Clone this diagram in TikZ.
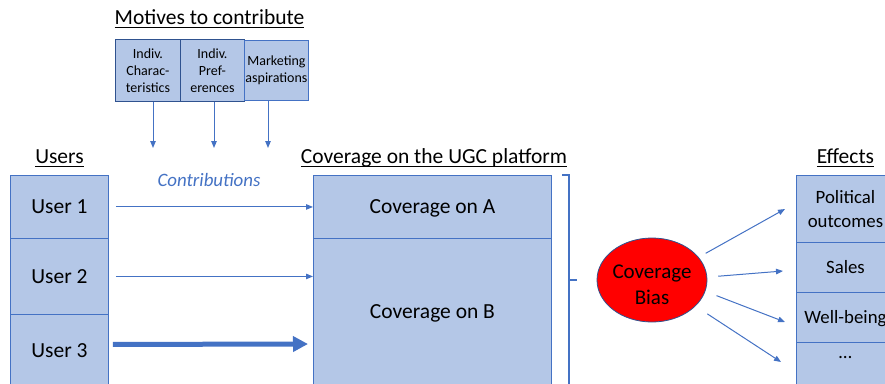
\documentclass[tikz,border=0pt]{standalone}
\usepackage{fontspec}
\setmainfont{Carlito}
\usetikzlibrary{arrows.meta,shapes.geometric,calc}
\definecolor{boxfill}{HTML}{B4C7E7}
\definecolor{boxline}{HTML}{4472C4}
\definecolor{darkline}{HTML}{2F528F}
\newcommand{\myul}[1]{\setbox0\hbox{#1}\rlap{\rule[-3.6pt]{\wd0}{1.1pt}}\box0}
\begin{document}
\begin{tikzpicture}[x=1pt,y=-1pt,
  cell/.style={draw=boxline, fill=boxfill, line width=0.9pt, inner sep=0pt,
    anchor=north west, align=center, font=\fontsize{21.5}{24}\selectfont},
  effcell/.style={cell, minimum width=98pt, font=\fontsize{18.8}{24}\selectfont},
  mot/.style={draw=darkline, fill=boxfill, line width=0.9pt, inner sep=0pt,
    anchor=north west, align=center, font=\fontsize{14}{17}\selectfont},
  title/.style={anchor=base, font=\fontsize{21.5}{24}\selectfont},
  arr/.style={draw=boxline, line width=1pt, -{Triangle[length=7pt,width=5.5pt]}},
  bigarr/.style={draw=boxline, line width=5pt, -{Triangle[length=15pt,width=15pt]}},
  bracket/.style={draw=boxline, line width=2pt}]
\useasboundingbox (0,0) rectangle (885,383);

% titles
\node[title] (tmot) at (209.5,24) {\myul{Motives to contribute}};
\node[title] (tusers) at (59.5,163) {\myul{Users}};
\node[title] (tcov) at (434,163) {\myul{Coverage on the UGC platform}};
\node[title] (teff) at (845.5,163) {\myul{Effects}};
\node[anchor=base, text=boxline, font=\fontsize{18.9}{22}\selectfont\itshape] (contrib) at (209,186) {Contributions};

% motive boxes
\node[mot, minimum width=65pt, minimum height=62pt] (m1) at (115,39) {Indiv.\\Charac-\\teristics};
\node[mot, minimum width=64pt, minimum height=62pt] (m2) at (180,39) {Indiv.\\Pref-\\erences};
\node[mot, draw=boxline, minimum width=64pt, minimum height=60pt] (m3) at (244,40) {Marketing\\aspirations};

\coordinate (d1) at (153,148);
\coordinate (d2) at (214,148);
\coordinate (d3) at (268,148);
\draw[arr] (m1.south -| d1) -- (d1);
\draw[arr] (m2.south -| d2) -- (d2);
\draw[arr] (m3.south -| d3) -- (d3);

% users
\node[cell, minimum width=98pt, minimum height=63pt] (u1) at (10,175) {User 1};
\node[cell, minimum width=98pt, minimum height=76pt] (u2) at (10,238) {User 2};
\node[cell, minimum width=98pt, minimum height=72pt] (u3) at (10,314) {User 3};

% coverage
\node[cell, text depth=0pt, minimum width=238pt, minimum height=63pt] (ca) at (313,175) {Coverage on A};
\node[cell, text depth=0pt, minimum width=238pt, minimum height=146pt] (cb) at (313,238) {Coverage on B};

% contributions arrows
\draw[arr] ([xshift=7pt]u1.east) -- (ca.west |- u1.east);
\draw[arr] ([xshift=7pt]u2.east) -- (cb.west |- u2.east);
\coordinate (u3s) at ([xshift=4pt,yshift=6pt]u3.east);
\coordinate (u3t) at (308,344);
\draw[bigarr] (u3s) -- (u3t);

% bracket
\draw[bracket] (562,175) -- (569,175) -- (569,392);
\draw[bracket] (569,280) -- (577,280);

% coverage bias
\node[ellipse, draw=darkline, fill=red, line width=0.8pt, minimum width=110pt,
  minimum height=84pt, inner sep=0pt] (bias) at (652,280) {};
\node[align=center, inner sep=0pt, font=\fontsize{21}{26}\selectfont] (biastext)
  at ([yshift=-5pt]bias.center) {Coverage\\Bias};

% effects
\node[effcell, minimum height=67pt] (e1) at (796,175) {Political\\outcomes};
\node[effcell, minimum height=50pt] (e2) at (796,242) {Sales};
\node[effcell, text depth=0pt, minimum height=50pt] (e3) at (796,292) {Well-being};
\node[effcell, minimum height=50pt] (e4) at (796,342) {\raisebox{9pt}[0pt][0pt]{…}};

\coordinate (t1) at (785,209);
\coordinate (t2) at (783,271);
\coordinate (t3) at (785,322);
\coordinate (t4) at (781,362);
\draw[arr, shorten <=8pt] (bias.26) -- (t1);
\draw[arr, shorten <=11pt] (bias.3) -- (t2);
\draw[arr, shorten <=12pt] (bias.-12) -- (t3);
\draw[arr, shorten <=14pt] (bias.-31) -- (t4);
\end{tikzpicture}
\end{document}
